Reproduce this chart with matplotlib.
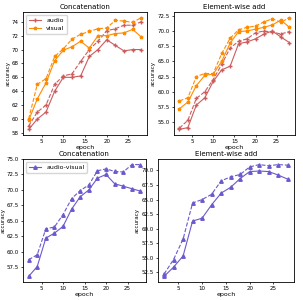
import numpy as np
import matplotlib
matplotlib.use("Agg")
import matplotlib.pyplot as plt

epochs = np.arange(2, 30, 2)

# Concatenation
cat_audio = [58.5, 60.0, 61.0, 64.0, 66.0, 66.0, 66.2, 69.0, 70.0, 71.4, 70.6, 69.8, 70.0, 70.0]
cat_audio_d = [59.0, 61.0, 62.0, 65.0, 66.2, 66.5, 68.3, 70.0, 71.2, 72.7, 73.0, 73.5, 73.5, 74.0]
cat_visual = [59.8, 62.9, 65.2, 68.4, 69.9, 70.4, 71.2, 70.2, 72.0, 72.0, 72.3, 72.4, 72.9, 71.8]
cat_visual_d = [60.0, 65.0, 65.8, 69.0, 70.1, 71.5, 72.2, 72.6, 73.0, 73.1, 74.2, 74.1, 73.9, 74.6]
cat_av = [56.0, 57.6, 62.2, 63.0, 64.1, 66.9, 68.9, 70.0, 71.9, 72.5, 71.0, 70.6, 70.2, 69.8]
cat_av_d = [58.7, 59.5, 63.7, 64.0, 66.0, 68.6, 69.9, 70.8, 73.1, 73.4, 73.0, 72.9, 74.1, 74.1]

# Element-wise add
add_audio = [53.8, 54.1, 57.8, 59.0, 61.7, 63.6, 64.2, 67.9, 68.2, 68.7, 69.5, 70.0, 69.0, 68.1]
add_audio_d = [54.0, 55.3, 58.9, 60.0, 62.0, 64.5, 67.2, 68.3, 68.7, 69.7, 70.0, 69.8, 69.5, 69.9]
add_visual = [57.2, 58.3, 61.0, 62.7, 62.9, 65.0, 68.0, 69.9, 70.0, 70.3, 70.6, 71.0, 71.8, 70.6]
add_visual_d = [58.5, 59.0, 62.5, 63.0, 63.0, 66.3, 68.8, 70.2, 70.6, 70.8, 71.5, 72.0, 71.4, 72.2]
add_av = [51.8, 53.4, 55.3, 61.3, 61.8, 64.1, 66.1, 67.1, 68.6, 69.8, 69.9, 69.8, 69.2, 68.5]
add_av_d = [52.2, 54.7, 58.2, 64.4, 65.0, 65.9, 68.2, 68.9, 69.3, 70.6, 71.0, 70.8, 71.0, 70.9]

c_audio = "#cd5c5c"
c_visual = "darkorange"
c_av = "slateblue"

plt.rcParams["font.size"] = 4

fig = plt.figure(figsize=(3.03, 3.0), dpi=100)
ax1 = fig.add_axes([0.076, 0.55, 0.409, 0.41])
ax2 = fig.add_axes([0.574, 0.55, 0.399, 0.41])
ax3 = fig.add_axes([0.076, 0.06, 0.406, 0.41])
ax4 = fig.add_axes([0.521, 0.06, 0.449, 0.41])

kw = dict(lw=0.8, ms=2.5)


def style(ax, title):
    ax.set_title(title, fontsize=5, pad=2)
    ax.set_xlabel("epoch", fontsize=4.5, labelpad=0.5)
    ax.set_ylabel("accuracy", fontsize=4, labelpad=1)
    ax.tick_params(labelsize=4, length=1.5, pad=1.5, width=0.5)
    for s in ax.spines.values():
        s.set_linewidth(0.6)


ax1.plot(epochs, cat_audio, color=c_audio, marker="+", label="audio", **kw)
ax1.plot(epochs, cat_audio_d, color=c_audio, marker="+", ls="--", **kw)
ax1.plot(epochs, cat_visual, color=c_visual, marker="*", label="visual", **kw)
ax1.plot(epochs, cat_visual_d, color=c_visual, marker="*", ls="--", **kw)
style(ax1, "Concatenation")
ax1.legend(loc="upper left", fontsize=4.5)

ax2.plot(epochs, add_audio, color=c_audio, marker="+", **kw)
ax2.plot(epochs, add_audio_d, color=c_audio, marker="+", ls="--", **kw)
ax2.plot(epochs, add_visual, color=c_visual, marker="*", **kw)
ax2.plot(epochs, add_visual_d, color=c_visual, marker="*", ls="--", **kw)
style(ax2, "Element-wise add")

ax3.plot(epochs, cat_av, color=c_av, marker="^", label="audio-visual", **kw)
ax3.plot(epochs, cat_av_d, color=c_av, marker="^", ls="--", **kw)
style(ax3, "Concatenation")
ax3.legend(loc="upper left", fontsize=4.5)

ax4.plot(epochs, add_av, color=c_av, marker="^", **kw)
ax4.plot(epochs, add_av_d, color=c_av, marker="^", ls="--", **kw)
style(ax4, "Element-wise add")

fig.savefig("out.png", dpi=100)
